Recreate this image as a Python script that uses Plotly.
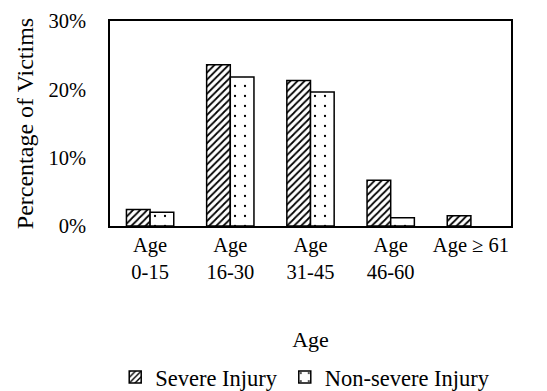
import plotly.graph_objects as go

categories = ["Age<br>0-15", "Age<br>16-30", "Age<br>31-45", "Age<br>46-60", "Age ≥ 61"]
severe = [2.4, 23.6, 21.3, 6.7, 1.5]
non_severe = [2.0, 21.8, 19.6, 1.2, None]
y_ticks = [0, 10, 20, 30]
y_tick_labels = ["0%", "10%", "20%", "30%"]

FONT = "Liberation Serif, Times New Roman, serif"

fig = go.Figure()
fig.add_trace(go.Bar(
    x=categories, y=severe, name="Severe Injury", legend="legend",
    marker=dict(color="white", line=dict(color="black", width=1.5),
                pattern=dict(shape="/", fgcolor="black", bgcolor="white", size=5, solidity=0.35)),
))
fig.add_trace(go.Bar(
    x=categories, y=non_severe, name="Non-severe Injury", legend="legend2",
    marker=dict(color="white", line=dict(color="black", width=1.5),
                pattern=dict(shape=".", fgcolor="black", bgcolor="white", size=10, solidity=0.04)),
))

legend_common = dict(orientation="h", xref="container", yref="container",
                     xanchor="left", y=0.055, yanchor="middle",
                     font=dict(size=22.5, family=FONT), itemwidth=30,
                     bgcolor="rgba(0,0,0,0)")

fig.update_layout(
    template="none",
    width=547, height=391,
    margin=dict(l=102, r=44, t=13, b=173, autoexpand=False),
    paper_bgcolor="white", plot_bgcolor="white",
    font=dict(family=FONT, size=20.5, color="black"),
    barmode="group", bargap=0.41, bargroupgap=0.0,
    showlegend=True,
    legend=dict(x=0.196, **legend_common),
    legend2=dict(x=0.506, **legend_common),
    xaxis=dict(showline=True, linecolor="black", linewidth=1.5, mirror=True,
               showgrid=False, ticks="", automargin=False, zeroline=False,
               title=dict(text="Age", standoff=50, font=dict(size=22))),
    yaxis=dict(range=[0, 30], tickvals=y_ticks, ticktext=y_tick_labels,
               showline=True, linecolor="black", linewidth=1.5, mirror=True,
               showgrid=False, zeroline=False, ticks="", ticklabelstandoff=18,
               automargin=False,
               title=dict(text="Percentage of Victims", standoff=8, font=dict(size=24))),
)

fig.write_html("out.html")
